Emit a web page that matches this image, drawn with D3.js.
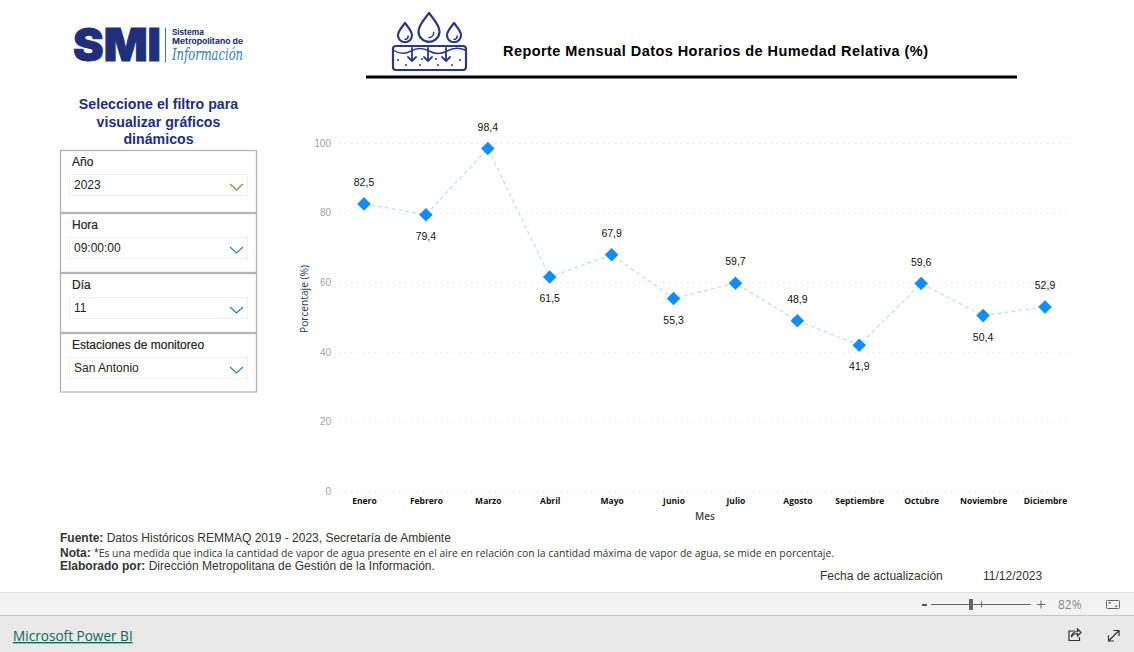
<!DOCTYPE html>
<html><head><meta charset="utf-8">
<script src="https://cdn.jsdelivr.net/npm/d3@7/dist/d3.min.js"></script>
<style>html,body{margin:0;padding:0;background:#fff;overflow:hidden}svg{display:block}</style>
</head><body><svg id="c" width="1134" height="652"></svg>
<script>
const meses = ["Enero","Febrero","Marzo","Abril","Mayo","Junio","Julio","Agosto","Septiembre","Octubre","Noviembre","Diciembre"];
const humedad = [82.5,79.4,98.4,61.5,67.9,55.3,59.7,48.9,41.9,59.6,50.4,52.9];
const etiquetaAbajo = [false,true,false,true,false,true,false,false,true,false,true,false];
const ticksY = [0,20,40,60,80,100];
const filtros = [["Año","2023"],["Hora","09:00:00"],["Día","11"],["Estaciones de monitoreo","San Antonio"]];

const svg = d3.select("#c");
const ARIAL = "Liberation Sans, Arial, sans-serif";
const SEGOE = "Open Sans, sans-serif";
const NAVY = "#1f2f7a";
function txt(x,y,s,o={}){
  const t = svg.append("text").attr("x",x).attr("y",y).text(s)
    .attr("font-family",o.f||ARIAL).attr("font-size",o.s||12).attr("fill",o.c||"#222")
    .attr("font-weight",o.w||"normal").attr("text-anchor",o.a||"start");
  if(o.ls) t.attr("letter-spacing",o.ls);
  if(o.st) t.attr("stroke",o.c||"#222").attr("stroke-width",o.st);
  return t;
}

/* logo */
txt(73,60.5,"SMI",{s:45,w:"900",c:NAVY,f:"Inter, sans-serif",st:1}).attr("textLength",88).attr("lengthAdjust","spacingAndGlyphs");
svg.append("line").attr("x1",165.5).attr("x2",165.5).attr("y1",28).attr("y2",62).attr("stroke","#2d7fb5").attr("stroke-width",1);
txt(172,35,"Sistema",{s:7.5,w:"bold",c:NAVY,f:"Inter, sans-serif"}).attr("textLength",32).attr("lengthAdjust","spacingAndGlyphs");
txt(172,44,"Metropolitano de",{s:7.5,w:"bold",c:NAVY,f:"Inter, sans-serif"}).attr("textLength",71).attr("lengthAdjust","spacingAndGlyphs");
txt(172,60,"Información",{s:16,c:"#2d7fb5",f:"DejaVu Serif, serif"}).attr("font-style","italic").attr("font-weight","200").attr("textLength",71).attr("lengthAdjust","spacingAndGlyphs");

/* icon */
const ig = svg.append("g").attr("fill","none").attr("stroke","#2b3a80").attr("stroke-width",2.2).attr("stroke-linecap","round").attr("stroke-linejoin","round");
function drop(cx,top,r){
  const cy = top+r*1.75;
  ig.append("path").attr("d",`M${cx},${top} C${cx+r*0.4},${top+r*0.55} ${cx+r},${cy-r*0.6} ${cx+r},${cy} A${r},${r} 0 1 1 ${cx-r},${cy} C${cx-r},${cy-r*0.6} ${cx-r*0.4},${top+r*0.55} ${cx},${top}Z`);
  ig.append("path").attr("d",`M${cx+r*0.45},${cy+r*0.1} A${r*0.5},${r*0.5} 0 0 1 ${cx},${cy+r*0.6}`).attr("stroke-width",1.5);
}
drop(405,23,7); drop(429,13,10.5); drop(454,23,7);
ig.append("rect").attr("x",393).attr("y",46).attr("width",73).attr("height",24).attr("rx",3);
ig.append("path").attr("d","M393,50 q9,6 18,1 t18,0 t18,0 t18,-1").attr("stroke-width",1.5);
[412,428,446].forEach(x=>{
  ig.append("path").attr("d",`M${x},48 V61 M${x-4},57 L${x},61 L${x+4},57`).attr("stroke-width",1.8);
});
[[398,60],[406,65],[420,65],[422,59],[436,59],[438,65],[452,65],[460,60]].forEach(p=>{
  svg.append("circle").attr("cx",p[0]).attr("cy",p[1]).attr("r",1).attr("fill","#2b3a80");
});

/* title */
txt(503,56,"Reporte Mensual Datos Horarios de Humedad Relativa (%)",{s:14.5,w:"bold",c:"#000"}).attr("textLength",425).attr("lengthAdjust","spacing");
svg.append("rect").attr("x",366).attr("y",75.5).attr("width",651).attr("height",3).attr("fill","#000");

/* filter heading */
["Seleccione el filtro para","visualizar gráficos","dinámicos"].forEach((s,i)=>{
  txt(158.5,109+i*17.5,s,{s:14.2,w:"bold",c:NAVY,a:"middle"});
});

/* slicers */
const slY = [151,214,274,334], slH = [62,59,59,58.5];
filtros.forEach((d,i)=>{
  const y = slY[i];
  svg.append("rect").attr("x",60.5).attr("y",y-.5).attr("width",196).attr("height",slH[i]).attr("fill","#fff").attr("stroke","#b3b3b3").attr("stroke-width",1.3);
  txt(72,y+15,d[0],{s:12,c:"#252423",st:0.2});
  svg.append("rect").attr("x",69.5).attr("y",y+23.5).attr("width",178).attr("height",21).attr("fill","#fff").attr("stroke","#f1f1f1");
  txt(74,y+38,d[1],{s:12,c:"#252423"});
  const c = i===0 ? "#b5782f" : "#2f78bd";
  svg.append("path").attr("d",`M${230},${y+33} l6.5,6 l6.5,-6`).attr("fill","none").attr("stroke",c).attr("stroke-width",1.1);
});

/* chart */
const x = d3.scalePoint().domain(meses).range([364,1045]);
const y = d3.scaleLinear().domain([0,100]).range([491,143]);

const axY = svg.append("g").attr("transform","translate(339,0)")
  .call(d3.axisLeft(y).tickValues(ticksY).tickSize(-727).tickPadding(8));
axY.select(".domain").remove();
axY.selectAll("line").attr("stroke","#dcdcdc").attr("stroke-width",1).attr("stroke-dasharray","1 5");
axY.selectAll("text").attr("font-family",ARIAL).attr("font-size",10).attr("fill","#a3a3a3");

const axX = svg.append("g").attr("transform","translate(0,491)")
  .call(d3.axisBottom(x).tickSize(0).tickPadding(7));
axX.select(".domain").remove();
axX.selectAll("text").attr("font-family",SEGOE).attr("font-size",8.5).attr("font-weight","700").attr("fill","#111");

txt(705,520,"Mes",{s:10,f:SEGOE,c:"#444",a:"middle",w:"600"});
txt(0,0,"Porcentaje (%)",{s:10.2,f:SEGOE,c:"#2b3a6e",a:"middle"}).attr("transform","translate(307.5,299) rotate(-90)");

svg.append("path").datum(humedad)
  .attr("d",d3.line().x((d,i)=>x(meses[i])).y(d=>y(d)))
  .attr("fill","none").attr("stroke","#bfdffb").attr("stroke-width",1.3).attr("stroke-dasharray","4 3");

svg.selectAll(".m").data(humedad).join("path").attr("class","m")
  .attr("d",d3.symbol(d3.symbolSquare,92))
  .attr("transform",(d,i)=>`translate(${x(meses[i])},${y(d)}) rotate(45)`)
  .attr("fill","#118dff");

svg.selectAll(".v").data(humedad).join("text").attr("class","v")
  .attr("x",(d,i)=>x(meses[i]))
  .attr("y",(d,i)=>y(d)+(etiquetaAbajo[i]?25:-18))
  .attr("text-anchor","middle").attr("font-family",ARIAL).attr("font-size",10.5).attr("fill","#111")
  .text(d=>d3.format(".1f")(d).replace(".",","));

/* notes */
const n1 = txt(60,542,"",{s:12,c:"#333"});
n1.append("tspan").attr("font-weight","bold").text("Fuente: ");
n1.append("tspan").text("Datos Históricos REMMAQ 2019 - 2023, Secretaría de Ambiente");
const n2 = txt(60,557,"",{s:12,c:"#333"});
n2.append("tspan").attr("font-weight","bold").text("Nota: ");
n2.append("tspan").text("*");
n2.append("tspan").attr("font-size",10.4).attr("font-family",SEGOE).text("Es una medida que indica la cantidad de vapor de agua presente en el aire en relación con la cantidad máxima de vapor de agua, se mide en porcentaje.");
const n3 = txt(60,570,"",{s:12,c:"#333"});
n3.append("tspan").attr("font-weight","bold").text("Elaborado por: ");
n3.append("tspan").text("Dirección Metropolitana de Gestión de la Información.");
txt(820,580,"Fecha de actualización",{s:12,c:"#333"});
txt(983,580,"11/12/2023",{s:12,c:"#333"});

/* Power BI chrome */
svg.append("rect").attr("x",0).attr("y",592).attr("width",1134).attr("height",23).attr("fill","#f3f3f3");
svg.append("rect").attr("x",0).attr("y",592).attr("width",1134).attr("height",1).attr("fill","#e0e0e0");
svg.append("rect").attr("x",0).attr("y",615).attr("width",1134).attr("height",37).attr("fill","#e9e9e9");
svg.append("rect").attr("x",0).attr("y",615).attr("width",1134).attr("height",1).attr("fill","#c8c8c8");
txt(13,641,"Microsoft Power BI",{s:13.6,f:SEGOE,c:"#10665a"}).attr("text-decoration","underline");
svg.append("rect").attr("x",922).attr("y",604).attr("width",5).attr("height",2).attr("fill","#555");
svg.append("rect").attr("x",931).attr("y",604).attr("width",100).attr("height",1).attr("fill","#666");
svg.append("rect").attr("x",969).attr("y",599).attr("width",4).attr("height",11).attr("fill","#666");
svg.append("rect").attr("x",981).attr("y",601.5).attr("width",1).attr("height",6).attr("fill","#666");
svg.append("path").attr("d","M1037,604.5 h8 M1041,600.5 v8").attr("stroke","#666").attr("fill","none");
txt(1058,609,"82%",{s:12,f:SEGOE,c:"#888"});
svg.append("rect").attr("x",1106.5).attr("y",600.5).attr("width",13).attr("height",8).attr("rx",1).attr("fill","none").attr("stroke","#666");
svg.append("path").attr("d","M1109,604 v-1.5 h2 M1117,605 v1.5 h-2").attr("fill","none").attr("stroke","#666");
const ic = svg.append("g").attr("fill","none").attr("stroke","#333").attr("stroke-width",1.2);
ic.append("path").attr("d","M1075,631 h-6 v9.5 h10.5 v-3.5");
ic.append("path").attr("d","M1071.5,637 c0,-3.5 3,-5.5 6,-5.5 v-2.5 l3.5,3.5 l-3.5,3.5 v-2.5 c-2.5,0 -4.5,1 -6,3.5");
ic.append("path").attr("d","M1108.5,641 L1119,630.5 M1113.5,630.5 h5.5 v5.5 M1108.5,635.5 v5.5 h5.5");
</script></body></html>
